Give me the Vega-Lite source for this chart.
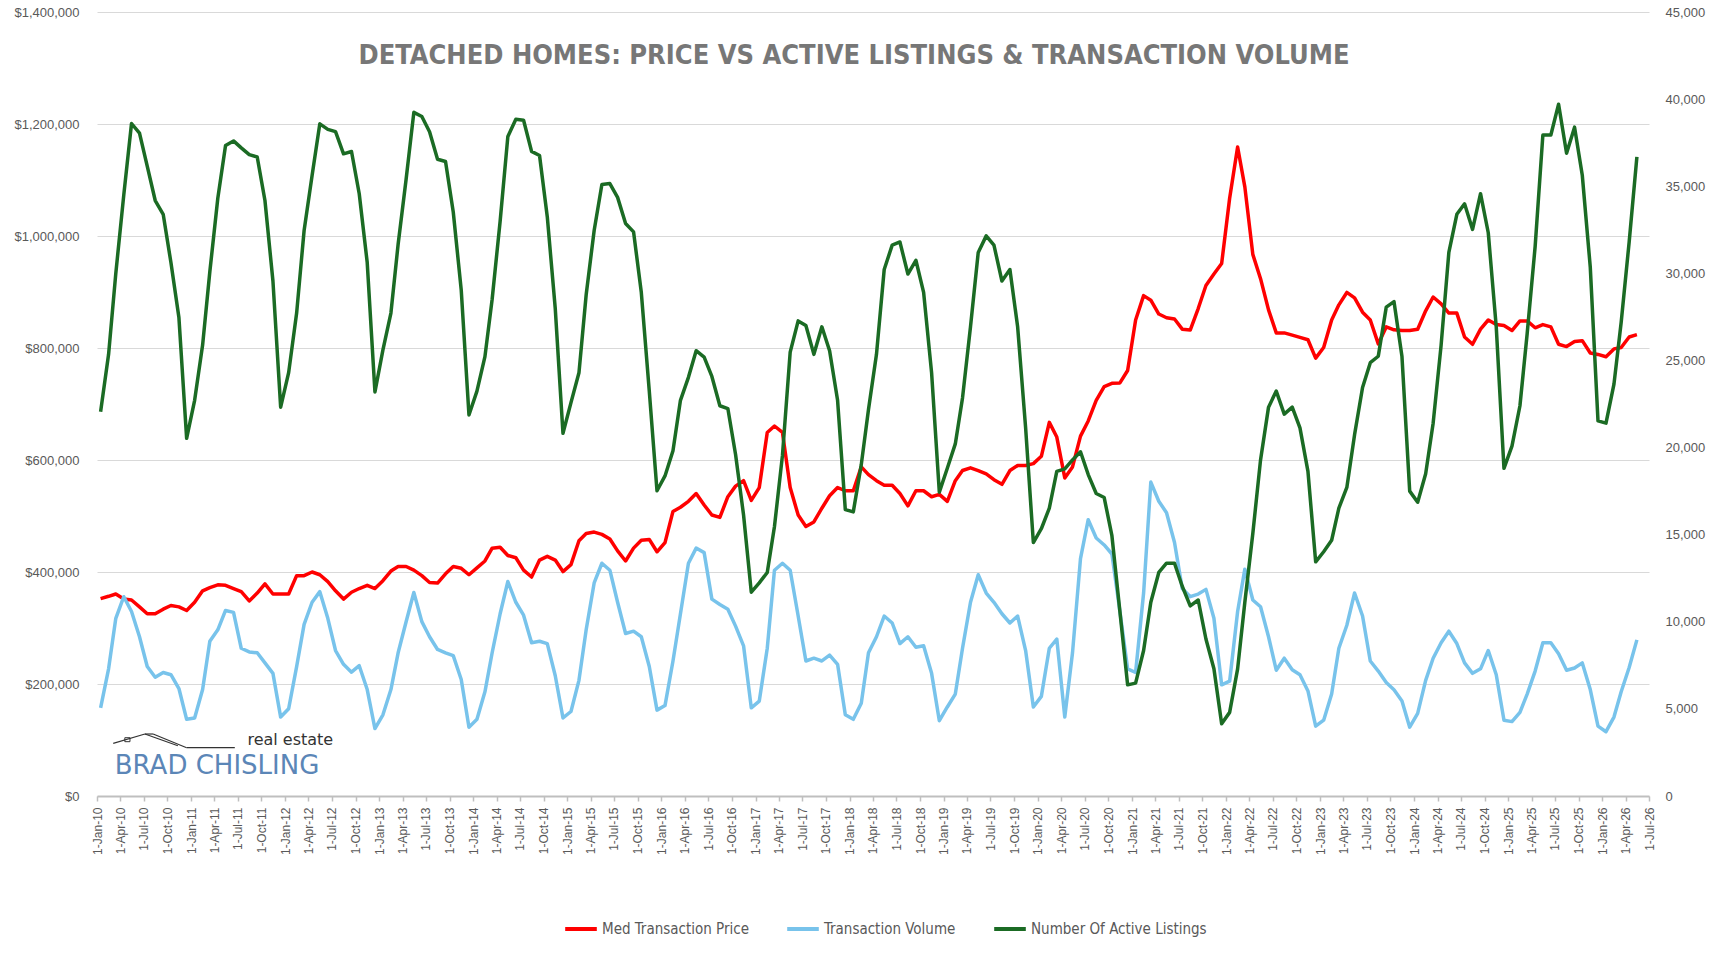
{
  "$schema": "https://vega.github.io/schema/vega-lite/v6.json",
  "width": 1552,
  "height": 784,
  "autosize": {"type": "none"},
  "padding": {"left": 97, "top": 12, "right": 60, "bottom": 160},
  "background": "white",
  "config": {"view": {"stroke": null}},
  "title": {
    "text": "DETACHED HOMES: PRICE VS ACTIVE LISTINGS & TRANSACTION VOLUME",
    "font": "DejaVu Sans Condensed",
    "fontSize": 27,
    "fontWeight": "bold",
    "color": "#777777",
    "anchor": "middle",
    "frame": "group",
    "offset": 0,
    "baseline": "alphabetic",
    "dx": -19,
    "dy": 85
  },
  "data": {
    "values": [
      {"d": "2010-01-15", "p": 352500, "v": 5060, "l": 22050},
      {"d": "2010-02-15", "p": 356600, "v": 7300, "l": 25350},
      {"d": "2010-03-15", "p": 360700, "v": 10200, "l": 30000},
      {"d": "2010-04-15", "p": 351700, "v": 11440, "l": 34500},
      {"d": "2010-05-15", "p": 350000, "v": 10590, "l": 38600},
      {"d": "2010-06-15", "p": 337700, "v": 9140, "l": 38050},
      {"d": "2010-07-15", "p": 325400, "v": 7430, "l": 36150},
      {"d": "2010-08-15", "p": 325400, "v": 6820, "l": 34180},
      {"d": "2010-09-15", "p": 333600, "v": 7090, "l": 33390},
      {"d": "2010-10-15", "p": 340200, "v": 6960, "l": 30620},
      {"d": "2010-11-15", "p": 337700, "v": 6170, "l": 27460},
      {"d": "2010-12-15", "p": 331200, "v": 4400, "l": 20530},
      {"d": "2011-01-15", "p": 345900, "v": 4480, "l": 22710},
      {"d": "2011-02-15", "p": 366400, "v": 6110, "l": 25880},
      {"d": "2011-03-15", "p": 372100, "v": 8880, "l": 30090},
      {"d": "2011-04-15", "p": 377100, "v": 9540, "l": 34310},
      {"d": "2011-05-15", "p": 376200, "v": 10650, "l": 37340},
      {"d": "2011-06-15", "p": 370500, "v": 10540, "l": 37600},
      {"d": "2011-07-15", "p": 364800, "v": 8480, "l": 37200},
      {"d": "2011-08-15", "p": 348400, "v": 8270, "l": 36810},
      {"d": "2011-09-15", "p": 362300, "v": 8220, "l": 36680},
      {"d": "2011-10-15", "p": 378700, "v": 7640, "l": 34180},
      {"d": "2011-11-15", "p": 360700, "v": 7040, "l": 29560},
      {"d": "2011-12-15", "p": 360700, "v": 4530, "l": 22320},
      {"d": "2012-01-15", "p": 360700, "v": 5010, "l": 24300},
      {"d": "2012-02-15", "p": 393500, "v": 7430, "l": 27720},
      {"d": "2012-03-15", "p": 393500, "v": 9850, "l": 32460},
      {"d": "2012-04-15", "p": 400000, "v": 11120, "l": 35620},
      {"d": "2012-05-15", "p": 395100, "v": 11730, "l": 38580},
      {"d": "2012-06-15", "p": 382800, "v": 10200, "l": 38260},
      {"d": "2012-07-15", "p": 366400, "v": 8350, "l": 38130},
      {"d": "2012-08-15", "p": 351700, "v": 7560, "l": 36860},
      {"d": "2012-09-15", "p": 363900, "v": 7110, "l": 36990},
      {"d": "2012-10-15", "p": 370500, "v": 7480, "l": 34570},
      {"d": "2012-11-15", "p": 376200, "v": 6110, "l": 30620},
      {"d": "2012-12-15", "p": 370500, "v": 3870, "l": 23190},
      {"d": "2013-01-15", "p": 384400, "v": 4660, "l": 25610},
      {"d": "2013-02-15", "p": 401700, "v": 6110, "l": 27720},
      {"d": "2013-03-15", "p": 409900, "v": 8220, "l": 31670},
      {"d": "2013-04-15", "p": 409900, "v": 10000, "l": 35400},
      {"d": "2013-05-15", "p": 403300, "v": 11680, "l": 39240},
      {"d": "2013-06-15", "p": 393500, "v": 10010, "l": 39000},
      {"d": "2013-07-15", "p": 381200, "v": 9140, "l": 38130},
      {"d": "2013-08-15", "p": 380300, "v": 8410, "l": 36550},
      {"d": "2013-09-15", "p": 396700, "v": 8220, "l": 36420},
      {"d": "2013-10-15", "p": 409900, "v": 8060, "l": 33520},
      {"d": "2013-11-15", "p": 406600, "v": 6690, "l": 29040},
      {"d": "2013-12-15", "p": 395100, "v": 3950, "l": 21870},
      {"d": "2014-01-15", "p": 407400, "v": 4400, "l": 23240},
      {"d": "2014-02-15", "p": 419700, "v": 5980, "l": 25220},
      {"d": "2014-03-15", "p": 442600, "v": 8220, "l": 28510},
      {"d": "2014-04-15", "p": 444300, "v": 10460, "l": 32990},
      {"d": "2014-05-15", "p": 429500, "v": 12310, "l": 37860},
      {"d": "2014-06-15", "p": 425400, "v": 11120, "l": 38840},
      {"d": "2014-07-15", "p": 403300, "v": 10380, "l": 38790},
      {"d": "2014-08-15", "p": 391000, "v": 8800, "l": 37000},
      {"d": "2014-09-15", "p": 421300, "v": 8880, "l": 36760},
      {"d": "2014-10-15", "p": 427900, "v": 8750, "l": 33250},
      {"d": "2014-11-15", "p": 421300, "v": 6900, "l": 27980},
      {"d": "2014-12-15", "p": 400800, "v": 4480, "l": 20820},
      {"d": "2015-01-15", "p": 413100, "v": 4850, "l": 22580},
      {"d": "2015-02-15", "p": 455800, "v": 6640, "l": 24290},
      {"d": "2015-03-15", "p": 468900, "v": 9540, "l": 28770},
      {"d": "2015-04-15", "p": 471300, "v": 12230, "l": 32460},
      {"d": "2015-05-15", "p": 467200, "v": 13360, "l": 35100},
      {"d": "2015-06-15", "p": 459000, "v": 12960, "l": 35150},
      {"d": "2015-07-15", "p": 437700, "v": 11120, "l": 34360},
      {"d": "2015-08-15", "p": 419700, "v": 9330, "l": 32860},
      {"d": "2015-09-15", "p": 442600, "v": 9460, "l": 32380},
      {"d": "2015-10-15", "p": 456600, "v": 9140, "l": 28910},
      {"d": "2015-11-15", "p": 458200, "v": 7430, "l": 23240},
      {"d": "2015-12-15", "p": 436100, "v": 4930, "l": 17520},
      {"d": "2016-01-15", "p": 452500, "v": 5190, "l": 18370},
      {"d": "2016-02-15", "p": 508200, "v": 7750, "l": 19820},
      {"d": "2016-03-15", "p": 515600, "v": 10460, "l": 22710},
      {"d": "2016-04-15", "p": 526200, "v": 13360, "l": 24030},
      {"d": "2016-05-15", "p": 540200, "v": 14230, "l": 25560},
      {"d": "2016-06-15", "p": 519700, "v": 13970, "l": 25190},
      {"d": "2016-07-15", "p": 501700, "v": 11300, "l": 24080},
      {"d": "2016-08-15", "p": 497600, "v": 10990, "l": 22400},
      {"d": "2016-09-15", "p": 534400, "v": 10720, "l": 22240},
      {"d": "2016-10-15", "p": 553300, "v": 9750, "l": 19600},
      {"d": "2016-11-15", "p": 563100, "v": 8620, "l": 16130},
      {"d": "2016-12-15", "p": 527900, "v": 5060, "l": 11700},
      {"d": "2017-01-15", "p": 550800, "v": 5450, "l": 12230},
      {"d": "2017-02-15", "p": 649200, "v": 8480, "l": 12830},
      {"d": "2017-03-15", "p": 660700, "v": 12960, "l": 15470},
      {"d": "2017-04-15", "p": 649200, "v": 13360, "l": 19550},
      {"d": "2017-05-15", "p": 550800, "v": 12960, "l": 25480},
      {"d": "2017-06-15", "p": 501700, "v": 10330, "l": 27270},
      {"d": "2017-07-15", "p": 481200, "v": 7750, "l": 27010},
      {"d": "2017-08-15", "p": 489400, "v": 7910, "l": 25350},
      {"d": "2017-09-15", "p": 513900, "v": 7750, "l": 26930},
      {"d": "2017-10-15", "p": 536100, "v": 8090, "l": 25560},
      {"d": "2017-11-15", "p": 550800, "v": 7560, "l": 22710},
      {"d": "2017-12-15", "p": 545100, "v": 4660, "l": 16440},
      {"d": "2018-01-15", "p": 545100, "v": 4400, "l": 16310},
      {"d": "2018-02-15", "p": 587700, "v": 5320, "l": 19020},
      {"d": "2018-03-15", "p": 573800, "v": 8220, "l": 22190},
      {"d": "2018-04-15", "p": 563100, "v": 9140, "l": 25350},
      {"d": "2018-05-15", "p": 555000, "v": 10330, "l": 30220},
      {"d": "2018-06-15", "p": 555000, "v": 9930, "l": 31620},
      {"d": "2018-07-15", "p": 540200, "v": 8750, "l": 31800},
      {"d": "2018-08-15", "p": 518100, "v": 9140, "l": 29960},
      {"d": "2018-09-15", "p": 545100, "v": 8540, "l": 30750},
      {"d": "2018-10-15", "p": 545100, "v": 8620, "l": 28910},
      {"d": "2018-11-15", "p": 534400, "v": 7040, "l": 24290},
      {"d": "2018-12-15", "p": 538500, "v": 4320, "l": 17440},
      {"d": "2019-01-15", "p": 526200, "v": 5110, "l": 18810},
      {"d": "2019-02-15", "p": 563100, "v": 5850, "l": 20210},
      {"d": "2019-03-15", "p": 581200, "v": 8480, "l": 22850},
      {"d": "2019-04-15", "p": 586100, "v": 11120, "l": 26930},
      {"d": "2019-05-15", "p": 581200, "v": 12700, "l": 31200},
      {"d": "2019-06-15", "p": 575400, "v": 11650, "l": 32150},
      {"d": "2019-07-15", "p": 564800, "v": 11120, "l": 31620},
      {"d": "2019-08-15", "p": 556600, "v": 10460, "l": 29560},
      {"d": "2019-09-15", "p": 581200, "v": 9930, "l": 30220},
      {"d": "2019-10-15", "p": 590200, "v": 10330, "l": 26930},
      {"d": "2019-11-15", "p": 590200, "v": 8350, "l": 21130},
      {"d": "2019-12-15", "p": 593500, "v": 5110, "l": 14550},
      {"d": "2020-01-15", "p": 606600, "v": 5720, "l": 15340},
      {"d": "2020-02-15", "p": 667200, "v": 8480, "l": 16520},
      {"d": "2020-03-15", "p": 641000, "v": 9010, "l": 18630},
      {"d": "2020-04-15", "p": 568000, "v": 4530, "l": 18780},
      {"d": "2020-05-15", "p": 587700, "v": 8220, "l": 19290},
      {"d": "2020-06-15", "p": 642600, "v": 13620, "l": 19760},
      {"d": "2020-07-15", "p": 669700, "v": 15860, "l": 18450},
      {"d": "2020-08-15", "p": 706500, "v": 14810, "l": 17360},
      {"d": "2020-09-15", "p": 731200, "v": 14410, "l": 17130},
      {"d": "2020-10-15", "p": 736900, "v": 13890, "l": 14940},
      {"d": "2020-11-15", "p": 737700, "v": 10590, "l": 10590},
      {"d": "2020-12-15", "p": 759900, "v": 7300, "l": 6380},
      {"d": "2021-01-15", "p": 850000, "v": 7090, "l": 6480},
      {"d": "2021-02-15", "p": 893500, "v": 11650, "l": 8350},
      {"d": "2021-03-15", "p": 885300, "v": 18020, "l": 11120},
      {"d": "2021-04-15", "p": 860700, "v": 16920, "l": 12830},
      {"d": "2021-05-15", "p": 854100, "v": 16260, "l": 13360},
      {"d": "2021-06-15", "p": 851700, "v": 14550, "l": 13360},
      {"d": "2021-07-15", "p": 833600, "v": 11910, "l": 12040},
      {"d": "2021-08-15", "p": 832000, "v": 11440, "l": 10910},
      {"d": "2021-09-15", "p": 870500, "v": 11590, "l": 11250},
      {"d": "2021-10-15", "p": 911500, "v": 11860, "l": 9010},
      {"d": "2021-11-15", "p": 932000, "v": 10200, "l": 7300},
      {"d": "2021-12-15", "p": 950900, "v": 6380, "l": 4150},
      {"d": "2022-01-15", "p": 1067300, "v": 6590, "l": 4800},
      {"d": "2022-02-15", "p": 1159000, "v": 10590, "l": 7300},
      {"d": "2022-03-15", "p": 1087700, "v": 13020, "l": 11120},
      {"d": "2022-04-15", "p": 967200, "v": 11250, "l": 15070},
      {"d": "2022-05-15", "p": 923800, "v": 10860, "l": 19290},
      {"d": "2022-06-15", "p": 868000, "v": 9140, "l": 22320},
      {"d": "2022-07-15", "p": 827000, "v": 7220, "l": 23240},
      {"d": "2022-08-15", "p": 827000, "v": 7910, "l": 21920},
      {"d": "2022-09-15", "p": 823000, "v": 7250, "l": 22320},
      {"d": "2022-10-15", "p": 818900, "v": 6960, "l": 21130},
      {"d": "2022-11-15", "p": 814800, "v": 6030, "l": 18630},
      {"d": "2022-12-15", "p": 782000, "v": 4010, "l": 13440},
      {"d": "2023-01-15", "p": 800900, "v": 4350, "l": 14020},
      {"d": "2023-02-15", "p": 850000, "v": 5850, "l": 14680},
      {"d": "2023-03-15", "p": 877100, "v": 8480, "l": 16520},
      {"d": "2023-04-15", "p": 899200, "v": 9800, "l": 17710},
      {"d": "2023-05-15", "p": 889400, "v": 11650, "l": 20740},
      {"d": "2023-06-15", "p": 864000, "v": 10330, "l": 23450},
      {"d": "2023-07-15", "p": 850000, "v": 7750, "l": 24870},
      {"d": "2023-08-15", "p": 807400, "v": 7170, "l": 25240},
      {"d": "2023-09-15", "p": 837700, "v": 6510, "l": 28060},
      {"d": "2023-10-15", "p": 832400, "v": 6100, "l": 28380},
      {"d": "2023-11-15", "p": 831200, "v": 5450, "l": 25220},
      {"d": "2023-12-15", "p": 831200, "v": 3950, "l": 17500},
      {"d": "2024-01-15", "p": 833600, "v": 4740, "l": 16860},
      {"d": "2024-02-15", "p": 866400, "v": 6640, "l": 18500},
      {"d": "2024-03-15", "p": 891000, "v": 7910, "l": 21400},
      {"d": "2024-04-15", "p": 878700, "v": 8800, "l": 25880},
      {"d": "2024-05-15", "p": 862300, "v": 9460, "l": 31200},
      {"d": "2024-06-15", "p": 862300, "v": 8750, "l": 33390},
      {"d": "2024-07-15", "p": 819700, "v": 7640, "l": 33990},
      {"d": "2024-08-15", "p": 806600, "v": 7040, "l": 32520},
      {"d": "2024-09-15", "p": 833600, "v": 7300, "l": 34570},
      {"d": "2024-10-15", "p": 850000, "v": 8350, "l": 32330},
      {"d": "2024-11-15", "p": 841800, "v": 6960, "l": 26930},
      {"d": "2024-12-15", "p": 840200, "v": 4350, "l": 18810},
      {"d": "2025-01-15", "p": 831200, "v": 4270, "l": 20080},
      {"d": "2025-02-15", "p": 848400, "v": 4800, "l": 22400},
      {"d": "2025-03-15", "p": 848400, "v": 5850, "l": 26530},
      {"d": "2025-04-15", "p": 836100, "v": 7170, "l": 31540},
      {"d": "2025-05-15", "p": 841800, "v": 8800, "l": 37940},
      {"d": "2025-06-15", "p": 837700, "v": 8800, "l": 37940},
      {"d": "2025-07-15", "p": 806600, "v": 8170, "l": 39710},
      {"d": "2025-08-15", "p": 802500, "v": 7220, "l": 36890},
      {"d": "2025-09-15", "p": 811500, "v": 7350, "l": 38390},
      {"d": "2025-10-15", "p": 813100, "v": 7640, "l": 35630},
      {"d": "2025-11-15", "p": 791000, "v": 6110, "l": 30360},
      {"d": "2025-12-15", "p": 788500, "v": 4010, "l": 21530},
      {"d": "2026-01-15", "p": 784400, "v": 3690, "l": 21400},
      {"d": "2026-02-15", "p": 798400, "v": 4530, "l": 23640},
      {"d": "2026-03-15", "p": 800900, "v": 5980, "l": 27190},
      {"d": "2026-04-15", "p": 819700, "v": 7380, "l": 31800},
      {"d": "2026-05-15", "p": 823800, "v": 8960, "l": 36680}
    ]
  },
  "layer": [
    {
      "layer": [
        {
          "mark": {"type": "line", "strokeWidth": 3.5, "strokeJoin": "round"},
          "encoding": {
            "x": {
              "field": "d",
              "type": "temporal",
              "title": null,
              "scale": {
                "type": "utc",
                "nice": false,
                "domain": [
                  {"year": 2010, "month": 1, "date": 1, "utc": true},
                  {"year": 2026, "month": 7, "date": 1, "utc": true}
                ]
              },
              "axis": {
                "orient": "bottom",
                "format": "%-d-%b-%y",
                "tickCount": {"interval": "month", "step": 3},
                "labelAngle": 270,
                "labelFont": "Liberation Sans",
                "labelFontSize": 12,
                "labelColor": "#595959",
                "labelPadding": 6,
                "labelOverlap": false,
                "labelFlush": false,
                "labelBound": false,
                "domainColor": "#bfbfbf",
                "domainWidth": 2,
                "tickColor": "#bfbfbf",
                "tickWidth": 1.5,
                "tickSize": 5,
                "grid": false
              }
            },
            "y": {
              "field": "p",
              "type": "quantitative",
              "title": null,
              "scale": {"domain": [0, 1400000], "nice": false},
              "axis": {
                "orient": "left",
                "values": [0, 200000, 400000, 600000, 800000, 1000000, 1200000, 1400000],
                "format": "$,.0f",
                "labelFont": "Liberation Sans",
                "labelFontSize": 13,
                "labelColor": "#595959",
                "labelPadding": 18,
                "domain": false,
                "ticks": false,
                "grid": true,
                "gridColor": "#d9d9d9",
                "gridWidth": 1
              }
            },
            "color": {
              "datum": "p",
              "title": null,
              "scale": {
                "domain": ["p", "v", "l"],
                "range": ["#ff0000", "#78c3eb", "#1b6b24"]
              },
              "legend": {
                "orient": "none",
                "legendX": 466,
                "legendY": 899,
                "direction": "horizontal",
                "title": null,
                "symbolType": "stroke",
                "symbolStrokeWidth": 4,
                "symbolSize": 1000,
                "labelFont": "DejaVu Sans Condensed",
                "labelFontSize": 15,
                "labelColor": "#595959",
                "labelOffset": 3,
                "labelLimit": 400,
                "columnPadding": 30,
                "labelExpr": "datum.label == 'p' ? 'Med Transaction Price' : datum.label == 'v' ? 'Transaction Volume' : 'Number Of Active Listings'"
              }
            }
          }
        },
        {
          "data": {"values": [{}]},
          "mark": {"type": "rule", "color": "#333333", "strokeWidth": 1.2},
          "encoding": {
            "x": {"datum": {"year": 2010, "month": 3, "date": 5, "utc": true}, "type": "temporal", "title": null},
            "x2": {"datum": {"year": 2010, "month": 7, "date": 6, "utc": true}},
            "y": {"datum": 94100, "type": "quantitative", "title": null},
            "y2": {"datum": 110700}
          }
        },
        {
          "data": {"values": [{}]},
          "mark": {"type": "rule", "color": "#333333", "strokeWidth": 1.2},
          "encoding": {
            "x": {"datum": {"year": 2010, "month": 7, "date": 6, "utc": true}, "type": "temporal", "title": null},
            "x2": {"datum": {"year": 2010, "month": 8, "date": 7, "utc": true}},
            "y": {"datum": 110700, "type": "quantitative", "title": null},
            "y2": {"datum": 110700}
          }
        },
        {
          "data": {"values": [{}]},
          "mark": {"type": "rule", "color": "#333333", "strokeWidth": 1.2},
          "encoding": {
            "x": {"datum": {"year": 2010, "month": 7, "date": 6, "utc": true}, "type": "temporal", "title": null},
            "x2": {"datum": {"year": 2010, "month": 11, "date": 11, "utc": true}},
            "y": {"datum": 110700, "type": "quantitative", "title": null},
            "y2": {"datum": 89800}
          }
        },
        {
          "data": {"values": [{}]},
          "mark": {"type": "rule", "color": "#333333", "strokeWidth": 1.2},
          "encoding": {
            "x": {"datum": {"year": 2010, "month": 8, "date": 7, "utc": true}, "type": "temporal", "title": null},
            "x2": {"datum": {"year": 2010, "month": 12, "date": 15, "utc": true}},
            "y": {"datum": 110700, "type": "quantitative", "title": null},
            "y2": {"datum": 86250}
          }
        },
        {
          "data": {"values": [{}]},
          "mark": {"type": "rule", "color": "#333333", "strokeWidth": 1.2},
          "encoding": {
            "x": {"datum": {"year": 2010, "month": 12, "date": 15, "utc": true}, "type": "temporal", "title": null},
            "x2": {"datum": {"year": 2011, "month": 6, "date": 20, "utc": true}},
            "y": {"datum": 86250, "type": "quantitative", "title": null},
            "y2": {"datum": 86250}
          }
        },
        {
          "data": {"values": [{}]},
          "mark": {"type": "rect", "fillOpacity": 0, "stroke": "#333333", "strokeWidth": 1},
          "encoding": {
            "x": {"datum": {"year": 2010, "month": 4, "date": 19, "utc": true}, "type": "temporal", "title": null},
            "x2": {"datum": {"year": 2010, "month": 5, "date": 9, "utc": true}},
            "y": {"datum": 97000, "type": "quantitative", "title": null},
            "y2": {"datum": 104100}
          }
        },
        {
          "data": {"values": [{}]},
          "mark": {"type": "text", "text": "BRAD CHISLING", "font": "DejaVu Sans", "fontSize": 26, "color": "#5b86b7", "align": "left", "baseline": "alphabetic"},
          "encoding": {
            "x": {"datum": {"year": 2010, "month": 3, "date": 11, "utc": true}, "type": "temporal", "title": null},
            "y": {"datum": 39300, "type": "quantitative", "title": null}
          }
        },
        {
          "data": {"values": [{}]},
          "mark": {"type": "text", "text": "real estate", "font": "DejaVu Sans", "fontSize": 16, "color": "#333333", "align": "right", "baseline": "alphabetic"},
          "encoding": {
            "x": {"datum": {"year": 2012, "month": 7, "date": 6, "utc": true}, "type": "temporal", "title": null},
            "y": {"datum": 91000, "type": "quantitative", "title": null}
          }
        }
      ]
    },
    {
      "transform": [{"fold": ["v", "l"], "as": ["s", "n"]}],
      "mark": {"type": "line", "strokeWidth": 3.5, "strokeJoin": "round"},
      "encoding": {
        "x": {"field": "d", "type": "temporal", "title": null},
        "y": {
          "field": "n",
          "type": "quantitative",
          "title": null,
          "scale": {"domain": [0, 45000], "nice": false},
          "axis": {
            "orient": "right",
            "values": [0, 5000, 10000, 15000, 20000, 25000, 30000, 35000, 40000, 45000],
            "format": ",.0f",
            "labelFont": "Liberation Sans",
            "labelFontSize": 13,
            "labelColor": "#595959",
            "labelPadding": 16,
            "domain": false,
            "ticks": false,
            "grid": false
          }
        },
        "color": {"field": "s", "type": "nominal", "title": null}
      }
    }
  ],
  "resolve": {"scale": {"y": "independent"}}
}
